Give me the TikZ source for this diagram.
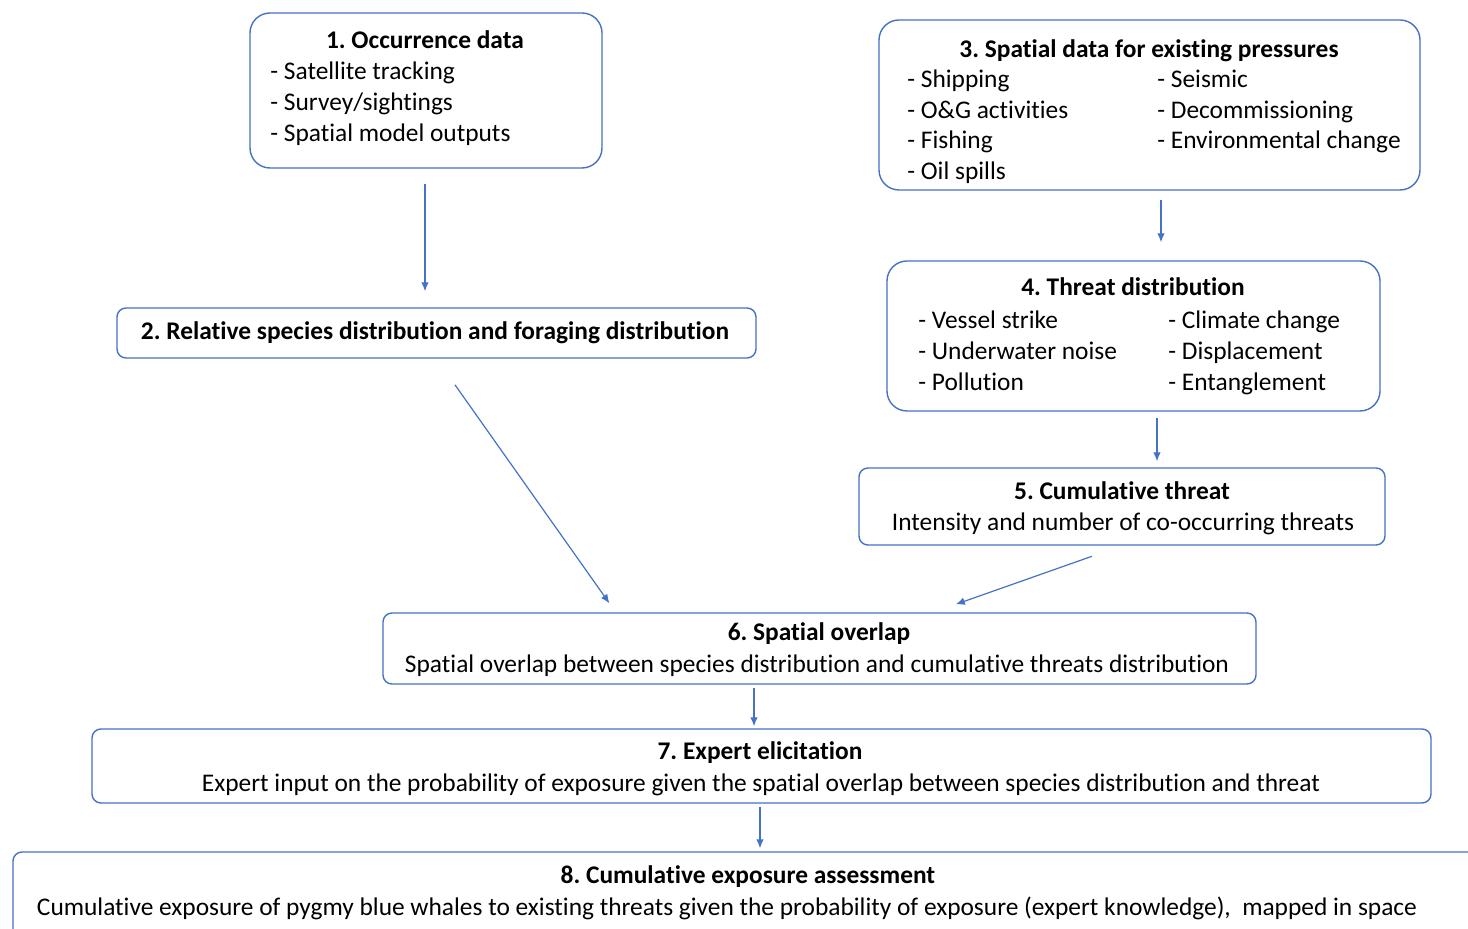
\documentclass[tikz,border=0pt]{standalone}
\usepackage{fontspec}
\setmainfont{Carlito}[Ligatures=NoCommon]
\usepackage{tikz}
\usetikzlibrary{arrows.meta,positioning,fit,calc}
\frenchspacing

\definecolor{boxblue}{HTML}{4472C4}

\tikzset{
  bigbox/.style={draw=boxblue, line width=0.7pt, rounded corners=10pt, inner sep=0pt},
  flatbox/.style={draw=boxblue, line width=0.7pt, rounded corners=4.5pt, inner sep=0pt},
  head/.style={inner sep=0pt, text height=8pt, text depth=0pt, font=\fontsize{12.7}{15}\selectfont\bfseries},
  item/.style={inner sep=0pt, text height=8pt, text depth=0pt, anchor=west},
  line/.style={draw=boxblue, line width=0.6pt, ->}
}

\begin{document}
\begin{tikzpicture}[x=0.5pt, y=-0.5pt, >={Latex[length=4.5pt,width=3.8pt]},
  font=\fontsize{12.7}{15}\selectfont]
		\useasboundingbox (0,0) rectangle (1468,929);

		% boxes
		\node[bigbox, fit={(250,13) (602,168)}] (occ) {};
		\node[flatbox, fit={(117,308) (756,358)}] (reldist) {};
		\node[bigbox, fit={(879,20) (1420,190)}] (pres) {};
		\node[bigbox, fit={(887,261) (1380,411)}] (threat) {};
		\node[flatbox, fit={(859,468) (1385,545)}] (cumthreat) {};
		\node[flatbox, fit={(383,613) (1256,684)}] (overlap) {};
		\node[flatbox, fit={(92,729) (1431,803)}] (expert) {};
		\node[flatbox, fit={(13,852) (1500,980)}] (assess) {};

		% 1
		\node[head] (occT) at (425,41) {1. Occurrence data};
		\node[item] (occA) at (270,72) {- Satellite tracking};
		\node[item] (occB) at (270,103) {- Survey/sightings};
		\node[item] (occC) at (270,134) {- Spatial model outputs};

		% 2
		\node[head] (relT) at (435,332) {2. Relative species distribution and foraging distribution};

		% 3
		\node[head] (presT) at (1149,50) {3. Spatial data for existing pressures};
		\node[item] (presA) at (907,80) {- Shipping};
		\node[item] (presB) at (907,111) {- O\&G activities};
		\node[item] (presC) at (907,141) {- Fishing};
		\node[item] (presD) at (907,172) {- Oil spills};
		\node[item] (presE) at (1157,80) {- Seismic};
		\node[item] (presF) at (1157,111) {- Decommissioning};
		\node[item] (presG) at (1157,141) {- Environmental change};

		% 4
		\node[head] (threatT) at (1133,288) {4. Threat distribution};
		\node[item] (threatA) at (918,321) {- Vessel strike};
		\node[item] (threatB) at (918,352) {- Underwater noise};
		\node[item] (threatC) at (918,383) {- Pollution};
		\node[item] (threatD) at (1168,321) {- Climate change};
		\node[item] (threatE) at (1168,352) {- Displacement};
		\node[item] (threatF) at (1168,383) {- Entanglement};

		% 5
		\node[head] (cumT) at (1122,492) {5. Cumulative threat};
		\node[item, anchor=center] (cumS) at (1123,523) {Intensity and number of co-occurring threats};

		% 6
		\node[head] (overT) at (819,633) {6. Spatial overlap};
		\node[item, anchor=center] (overS) at (817,665) {Spatial overlap between species distribution and cumulative threats distribution};

		% 7
		\node[head] (expT) at (760,752) {7. Expert elicitation};
		\node[item, anchor=center] (expS) at (761,784) {Expert input on the probability of exposure given the spatial overlap between species distribution and threat};

		% 8
		\node[head] (assT) at (748,876) {8. Cumulative exposure assessment};
		\node[item, anchor=center] (assS) at (727,908) {Cumulative exposure of pygmy blue whales to existing threats given the probability of exposure (expert knowledge),~ mapped in space};

		% arrows
		\draw[line, shorten <=7.5pt, shorten >=8pt] (occ.south -| 425,0) -- (reldist.north -| 425,0);
		\draw[line, shorten <=4.5pt, shorten >=9pt] (pres.south -| 1161,0) -- (threat.north -| 1161,0);
		\draw[line, shorten <=3pt, shorten >=3pt] (threat.south -| 1157,0) -- (cumthreat.north -| 1157,0);
		\draw[line, shorten <=16pt, shorten >=5.5pt] (reldist.south) -- ($(overlap.north west)!0.267!(overlap.north east)$);
		\draw[line, shorten <=16pt, shorten >=12pt] (cumthreat.south) -- ($(overlap.north west)!0.63!(overlap.north east)$);
		\draw[line, shorten <=1.5pt, shorten >=1pt] (overlap.south -| 754,0) -- (expert.north -| 754,0);
		\draw[line, shorten <=1.5pt, shorten >=1.5pt] (expert.south -| 760,0) -- (assess.north -| 760,0);
	\end{tikzpicture}
\end{document}
